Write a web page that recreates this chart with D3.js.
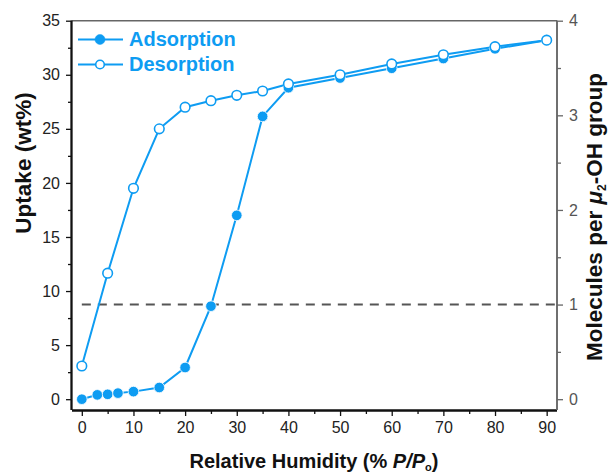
<!DOCTYPE html>
<html><head><meta charset="utf-8">
<script src="https://cdn.jsdelivr.net/npm/d3@7/dist/d3.min.js"></script>
<style>body{margin:0;background:#fff;font-family:"Liberation Sans",Arial,sans-serif}</style>
</head><body><svg id="c" width="608" height="473"></svg>
<script>
const adsX = [0, 3, 5, 7, 10, 15, 20, 25, 30, 35, 40, 50, 60, 70, 80, 90];
const adsY = [0.0, 0.4, 0.45, 0.56, 0.7, 1.08, 2.93, 8.6, 17.0, 26.15, 28.8, 29.7, 30.6, 31.5, 32.4, 33.2];
const desX = [0, 5, 10, 15, 20, 25, 30, 35, 40, 50, 60, 70, 80, 90];
const desY = [3.07, 11.65, 19.5, 25.0, 27.0, 27.6, 28.1, 28.5, 29.15, 30.0, 31.0, 31.85, 32.6, 33.2];
const xTicks = [0, 10, 20, 30, 40, 50, 60, 70, 80, 90];
const yTicks = [0, 5, 10, 15, 20, 25, 30, 35];
const rTicks = [0, 1, 2, 3, 4];
const oneMolecule = 8.75;
const seriesNames = ["Adsorption", "Desorption"];

const blue = "#0e9cf2";
const svg = d3.select("#c");
const L = 72, R = 557, T = 20.7, B = 410;
const x = d3.scaleLinear().domain([-1.9, 92]).range([L, R]);
const y = d3.scaleLinear().domain([-1, 35]).range([B, T]);
const yr = d3.scaleLinear().domain([-1 / oneMolecule, 35 / oneMolecule]).range([B, T]);

svg.append("line").attr("x1", L).attr("x2", R).attr("y1", T).attr("y2", T).attr("stroke", "#666").attr("stroke-width", 1.5);

svg.append("line").attr("x1", x(0)).attr("x2", R).attr("y1", yr(1)).attr("y2", yr(1))
  .attr("stroke", "#555").attr("stroke-width", 2).attr("stroke-dasharray", "9,7");

const fs = "16px";
const gx = svg.append("g").attr("transform", `translate(0,${B})`)
  .call(d3.axisBottom(x).tickValues(xTicks).tickSize(6).tickPadding(6));
const gxm = svg.append("g").attr("transform", `translate(0,${B})`)
  .call(d3.axisBottom(x).tickValues(d3.range(5, 95, 10)).tickSize(4).tickFormat(""));
const gy = svg.append("g").attr("transform", `translate(${L},0)`)
  .call(d3.axisLeft(y).tickValues(yTicks).tickSize(6).tickPadding(6));
const gym = svg.append("g").attr("transform", `translate(${L},0)`)
  .call(d3.axisLeft(y).tickValues(d3.range(2.5, 35, 5)).tickSize(4).tickFormat(""));
const gr = svg.append("g").attr("transform", `translate(${R},0)`)
  .call(d3.axisRight(yr).tickValues(rTicks).tickFormat(d3.format("d")).tickSize(6).tickPadding(6));
const grm = svg.append("g").attr("transform", `translate(${R},0)`)
  .call(d3.axisRight(yr).tickValues([0.5, 1.5, 2.5, 3.5]).tickSize(4).tickFormat(""));

[gx, gxm, gy, gym].forEach(g => {
  g.select(".domain").attr("stroke", "#111").attr("stroke-width", 1.8);
  g.selectAll(".tick line").attr("stroke", "#111").attr("stroke-width", 1.3);
  g.selectAll("text").attr("fill", "#222").style("font-size", fs).style("font-family", "Liberation Sans, Arial, sans-serif");
});
[gr, grm].forEach(g => {
  g.select(".domain").attr("stroke", "#666").attr("stroke-width", 1.5);
  g.selectAll(".tick line").attr("stroke", "#666").attr("stroke-width", 1.3);
  g.selectAll("text").attr("fill", "#555").style("font-size", fs).style("font-family", "Liberation Sans, Arial, sans-serif");
});
gx.select(".domain").attr("d", `M${L},0.5H${R}`);
gxm.select(".domain").attr("d", `M${L},0.5H${R}`);
gy.select(".domain").attr("d", `M-0.5,${T}V${B}`);
gym.select(".domain").attr("d", `M-0.5,${T}V${B}`);
gr.select(".domain").attr("d", `M0,${T}V${B}`);
grm.select(".domain").attr("d", `M0,${T}V${B}`);

const line = d3.line().x(d => x(d[0])).y(d => y(d[1]));
const ads = adsX.map((v, i) => [v, adsY[i]]);
const des = desX.map((v, i) => [v, desY[i]]);
svg.append("path").datum(ads).attr("d", line).attr("fill", "none").attr("stroke", blue).attr("stroke-width", 2);
svg.append("path").datum(des).attr("d", line).attr("fill", "none").attr("stroke", blue).attr("stroke-width", 2);
svg.selectAll(".a").data(ads).enter().append("circle").attr("cx", d => x(d[0])).attr("cy", d => y(d[1]))
  .attr("r", 5.3).attr("fill", blue).attr("stroke", "#fff").attr("stroke-width", 0.8);
svg.selectAll(".d").data(des).enter().append("circle").attr("cx", d => x(d[0])).attr("cy", d => y(d[1]))
  .attr("r", 4.8).attr("fill", "#fff").attr("stroke", blue).attr("stroke-width", 1.6);

const lg = svg.append("g");
[0, 1].forEach(i => {
  const ly = 39.5 + i * 25;
  lg.append("line").attr("x1", 78).attr("x2", 123).attr("y1", ly).attr("y2", ly).attr("stroke", blue).attr("stroke-width", 2);
  lg.append("circle").attr("cx", 100).attr("cy", ly).attr("r", i === 0 ? 5 : 4.3)
    .attr("fill", i === 0 ? blue : "#fff").attr("stroke", blue).attr("stroke-width", i === 0 ? 0.5 : 1.6);
  lg.append("text").attr("x", 129).attr("y", ly + 6.5).text(seriesNames[i])
    .attr("fill", blue).style("font-weight", "bold").style("font-size", "20px");
});

const xt = svg.append("text").attr("x", 314).attr("y", 468).attr("text-anchor", "middle")
  .style("font", "bold 20px 'Liberation Sans', Arial, sans-serif").attr("fill", "#111");
xt.append("tspan").text("Relative Humidity (% ");
xt.append("tspan").text("P").style("font-style", "italic");
xt.append("tspan").text("/").style("font-style", "italic");
xt.append("tspan").text("P").style("font-style", "italic");
xt.append("tspan").text("o").attr("dy", 3).style("font-size", "11px");
xt.append("tspan").text(")").attr("dy", -3);

const vf = "bold 22.5px 'Liberation Sans', Arial, sans-serif";
svg.append("text").attr("transform", "translate(31,163) rotate(-90)").attr("text-anchor", "middle")
  .style("font", vf).attr("fill", "#111").text("Uptake (wt%)");

const rt = svg.append("text").attr("transform", "translate(602,217) rotate(-90)").attr("text-anchor", "middle")
  .style("font", vf).attr("fill", "#111");
rt.append("tspan").text("Molecules per ");
rt.append("tspan").text("μ").style("font-style", "italic");
rt.append("tspan").text("2").attr("dy", 4).style("font-size", "12px");
rt.append("tspan").text("-OH group").attr("dy", -4);
</script></body></html>
